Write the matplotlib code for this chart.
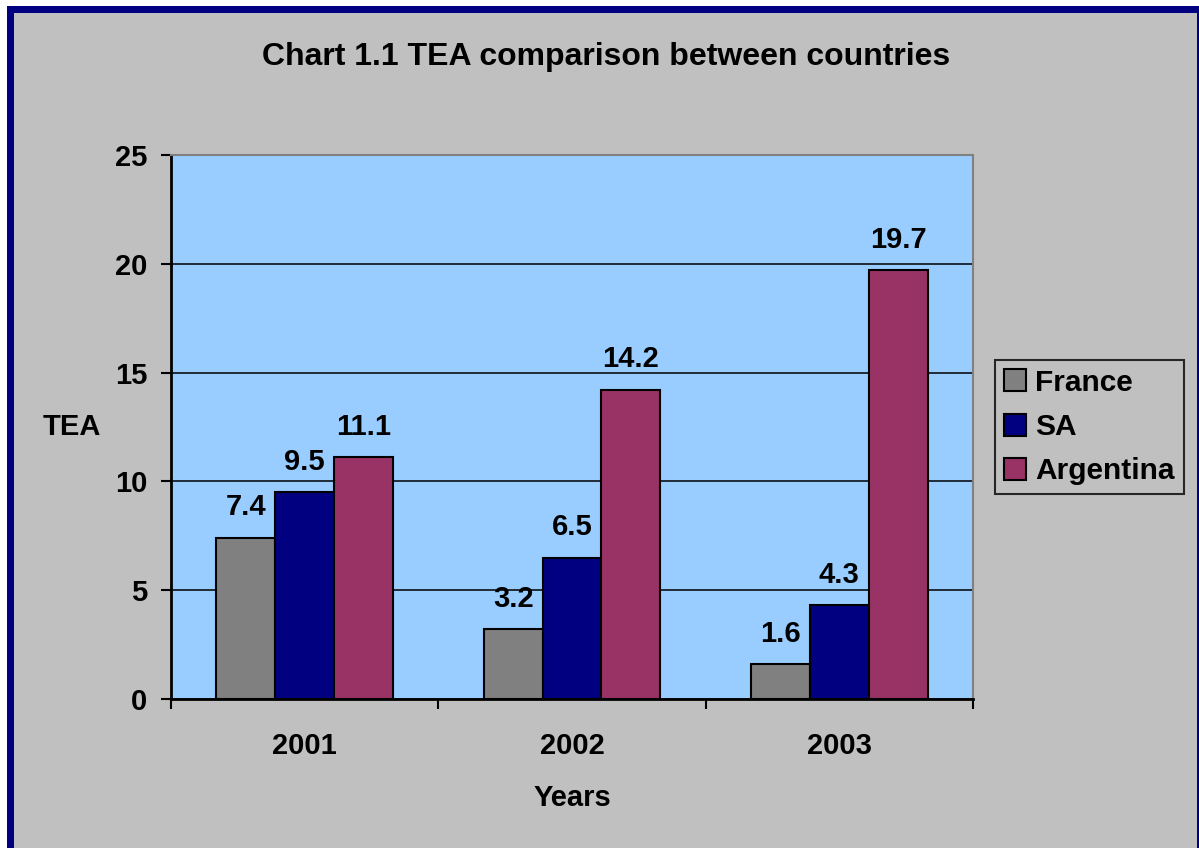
import matplotlib.pyplot as plt
from matplotlib.patches import Rectangle
import numpy as np

plt.rcParams['font.family'] = ['Liberation Sans', 'DejaVu Sans']
plt.rcParams['font.weight'] = 'bold'

years = ['2001', '2002', '2003']
france = [7.4, 3.2, 1.6]
sa = [9.5, 6.5, 4.3]
argentina = [11.1, 14.2, 19.7]
series_names = ['France', 'SA', 'Argentina']
series_colors = ['#808080', '#000080', '#993366']
yticks = [0, 5, 10, 15, 20, 25]

W, H = 1199, 848
fig = plt.figure(figsize=(W / 100, H / 100), dpi=100, facecolor='white')

# navy frame + gray chart area
fig.patches.append(Rectangle((7 / W, 0), 1 - 7 / W, 1 - 6 / H, transform=fig.transFigure,
                             facecolor='#000080', edgecolor='none', zorder=-2))
fig.patches.append(Rectangle((14 / W, 0), (1197 - 14) / W, 1 - 13 / H, transform=fig.transFigure,
                             facecolor='#C0C0C0', edgecolor='none', zorder=-1))

ax = fig.add_axes([171 / W, 1 - 699 / H, (973 - 171) / W, (699 - 155) / H])
ax.set_facecolor('#99CCFF')

x = np.arange(len(years))
w = 0.22
for i, (vals, name, col) in enumerate(zip([france, sa, argentina], series_names, series_colors)):
    b = ax.bar(x + (i - 1) * w, vals, w, color=col, edgecolor='black', linewidth=1.5,
               label=name, zorder=3)
    ax.bar_label(b, labels=[f'{v:.1f}' for v in vals], padding=12, fontsize=21,
                 fontweight='bold')

ax.set_xlim(-0.5, 2.5)
ax.set_ylim(0, 25)
ax.set_yticks(yticks)
ax.set_yticklabels([str(t) for t in yticks], fontsize=21, fontweight='bold')
ax.yaxis.grid(True, color='black', linewidth=1.1, zorder=1)
ax.set_axisbelow(True)

ax.set_xticks([-0.5, 0.5, 1.5, 2.5])
ax.set_xticklabels([])
ax.set_xticks(x, minor=True)
ax.set_xticklabels(years, minor=True, fontsize=21, fontweight='bold')
ax.tick_params(axis='x', which='major', direction='out', length=7, width=1.5)
ax.tick_params(axis='x', which='minor', length=0, pad=24)
ax.tick_params(axis='y', direction='out', length=7, width=1.5, pad=10)

for s in ['top', 'right']:
    ax.spines[s].set_color('#808080')
    ax.spines[s].set_linewidth(1.5)
for s in ['left', 'bottom']:
    ax.spines[s].set_color('black')
    ax.spines[s].set_linewidth(2)

fig.text(606 / W, 1 - 57 / H, 'Chart 1.1 TEA comparison between countries',
         ha='center', va='center', fontsize=23, fontweight='bold')
fig.text(572 / W, 1 - 798 / H, 'Years', ha='center', va='center', fontsize=21, fontweight='bold')
fig.text(72 / W, 1 - 427 / H, 'TEA', ha='center', va='center', fontsize=21, fontweight='bold')

leg = fig.legend(loc='center left', bbox_to_anchor=(995 / W, 1 - 427 / H), fontsize=21.5,
                 frameon=True, fancybox=False, edgecolor='black', facecolor='#C0C0C0',
                 handlelength=0.75, handleheight=0.75, handletextpad=0.3,
                 borderpad=0.3, labelspacing=0.55, borderaxespad=0)
leg.get_frame().set_linewidth(1.5)
for t in leg.get_texts():
    t.set_fontweight('bold')

fig.savefig('out.png', dpi=100, facecolor=fig.get_facecolor())
